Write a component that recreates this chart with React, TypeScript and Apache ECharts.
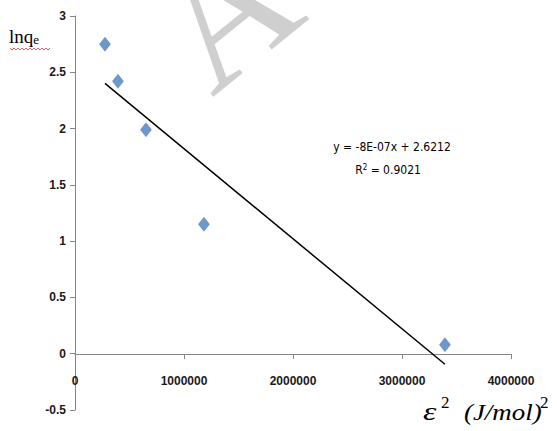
import React, { useEffect, useRef } from "react";
import * as echarts from "echarts";

const xValues = [275000, 394000, 651000, 1183000, 3394000];
const yValues = [2.75, 2.42, 1.99, 1.15, 0.08];
const slope = -8e-7;
const intercept = 2.6212;
const equationText = "y = -8E-07x + 2.6212";
const r2Text = "0.9021";

export default function App() {
  const ref = useRef<HTMLDivElement>(null);
  useEffect(() => {
    document.body.style.margin = "0";
    const chart = echarts.init(ref.current!, null, { renderer: "svg" });
    const pts = xValues.map((x, i) => [x, yValues[i]]);
    const xmin = Math.min(...xValues);
    const xmax = Math.max(...xValues);
    const trend = [
      [xmin, intercept + slope * xmin],
      [xmax, intercept + slope * xmax],
    ];
    const tickFont = {
      fontFamily: "'Liberation Sans', Arial, sans-serif",
      fontSize: 12,
      fontWeight: "bold" as const,
      color: "#1a1a1a",
    };
    const axisColor = "#868686";
    const serif = "'Liberation Serif', 'DejaVu Serif', serif";
    const zig: number[][] = [];
    for (let i = 0; i <= 20; i++) zig.push([10 + i * 2, i % 2 === 0 ? 48 : 50]);
    chart.setOption({
      animation: false,
      backgroundColor: "#ffffff",
      grid: [
        { left: 75, top: 16, right: 46, bottom: 21, containLabel: false, outerBoundsMode: "none" },
        { left: 75, top: 16, right: 46, bottom: 77, containLabel: false, outerBoundsMode: "none" },
      ],
      xAxis: [
        {
          gridIndex: 0,
          type: "value",
          min: 0,
          max: 4000000,
          interval: 1000000,
          show: false,
          splitLine: { show: false },
        },
        {
          gridIndex: 1,
          type: "value",
          min: 0,
          max: 4000000,
          interval: 1000000,
          position: "bottom",
          splitLine: { show: false },
          axisLine: { show: true, onZero: false, lineStyle: { color: axisColor, width: 1 } },
          axisTick: { show: true, inside: false, length: 5, lineStyle: { color: axisColor } },
          axisLabel: { ...tickFont, margin: 21, formatter: (v: number) => String(v) },
        },
      ],
      yAxis: [
        {
          gridIndex: 0,
          type: "value",
          min: -0.5,
          max: 3,
          interval: 0.5,
          splitLine: { show: false },
          axisLine: { show: true, onZero: false, lineStyle: { color: axisColor, width: 1 } },
          axisTick: { show: true, inside: false, length: 5, lineStyle: { color: axisColor } },
          axisLabel: { ...tickFont, margin: 9, formatter: (v: number) => String(v) },
        },
        {
          gridIndex: 1,
          type: "value",
          min: 0,
          max: 3,
          show: false,
          splitLine: { show: false },
        },
      ],
      series: [
        {
          type: "line",
          xAxisIndex: 0,
          yAxisIndex: 0,
          data: trend,
          symbol: "none",
          lineStyle: { color: "#000000", width: 1.5 },
          z: 2,
        },
        {
          type: "scatter",
          xAxisIndex: 0,
          yAxisIndex: 0,
          data: pts,
          symbol: "diamond",
          symbolSize: [11, 14],
          itemStyle: { color: "#4a7ebb", borderColor: "#3a6aa5", borderWidth: 0.5 },
          z: 3,
        },
      ],
      graphic: [
        {
          type: "text",
          x: 230,
          y: 120,
          rotation: 0.68,
          z: -10,
          silent: true,
          style: {
            text: "ACCEPTED",
            font: "175px 'Liberation Serif', serif",
            fill: "#cfcfcf",
            textVerticalAlign: "bottom",
          },
        },
        {
          type: "text",
          x: 9,
          y: 25,
          style: {
            text: "{a|lnq}{b|e}",
            rich: {
              a: { fontFamily: serif, fontSize: 19, fill: "#000", verticalAlign: "bottom" },
              b: { fontFamily: serif, fontSize: 13, fill: "#000", padding: [8, 0, 0, 0], verticalAlign: "bottom" },
            },
          },
        },
        {
          type: "polyline",
          shape: { points: zig },
          style: { stroke: "#d04040", lineWidth: 0.8, fill: "none" },
        },
        {
          type: "text",
          x: 392,
          y: 147,
          style: {
            text: equationText,
            font: "12px 'Liberation Sans Narrow', 'DejaVu Sans Condensed', sans-serif",
            fill: "#000",
            textAlign: "center",
            textVerticalAlign: "middle",
          },
        },
        {
          type: "text",
          x: 388,
          y: 170,
          style: {
            text: "{a|R}{s|2}{a| = " + r2Text + "}",
            textAlign: "center",
            textVerticalAlign: "middle",
            rich: {
              a: { fontFamily: "'Liberation Sans Narrow', 'DejaVu Sans Condensed', sans-serif", fontSize: 12, fill: "#000" },
              s: { fontFamily: "'Liberation Sans Narrow', 'DejaVu Sans Condensed', sans-serif", fontSize: 8, fill: "#000", verticalAlign: "top", padding: [0, 0, 6, 0] },
            },
          },
        },
        {
          type: "text",
          x: 423,
          y: 424,
          scaleX: 1.3,
          style: { text: "ε", font: "italic 26px " + serif, fill: "#000", textVerticalAlign: "bottom" },
        },
        {
          type: "text",
          x: 441,
          y: 411,
          style: { text: "2", font: "17px " + serif, fill: "#000", textVerticalAlign: "bottom" },
        },
        {
          type: "text",
          x: 464,
          y: 424,
          scaleX: 1.12,
          style: { text: "(J/mol)", font: "italic 24px " + serif, fill: "#000", textVerticalAlign: "bottom" },
        },
        {
          type: "text",
          x: 540,
          y: 411,
          style: { text: "2", font: "17px " + serif, fill: "#000", textVerticalAlign: "bottom" },
        },
      ],
    });
    return () => chart.dispose();
  }, []);
  return <div ref={ref} style={{ width: 557, height: 431 }} />;
}
